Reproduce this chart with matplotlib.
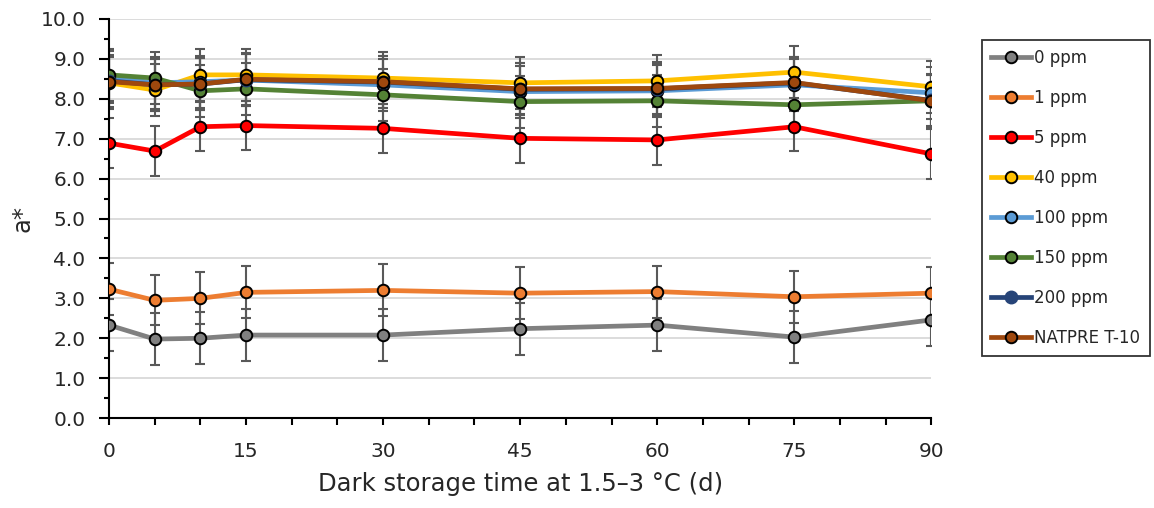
import matplotlib
matplotlib.use("Agg")
import matplotlib.pyplot as plt
from matplotlib.ticker import MultipleLocator, FormatStrFormatter

plt.rcParams['font.family'] = ['DejaVu Sans']

days = [0, 5, 10, 15, 30, 45, 60, 75, 90]

labels = ['0 ppm', '1 ppm', '5 ppm', '40 ppm', '100 ppm', '150 ppm', '200 ppm', 'NATPRE T-10']
colors = ['#808080', '#ED7D31', '#FF0000', '#FFC000', '#5B9BD5', '#548235', '#264478', '#9E480E']

a_0 = [2.33, 1.98, 2.00, 2.08, 2.08, 2.24, 2.33, 2.03, 2.46]
a_1 = [3.23, 2.95, 3.00, 3.15, 3.20, 3.13, 3.17, 3.04, 3.13]
a_5 = [6.89, 6.69, 7.30, 7.33, 7.26, 7.01, 6.97, 7.30, 6.62]
a_40 = [8.40, 8.22, 8.60, 8.60, 8.52, 8.40, 8.45, 8.67, 8.30]
a_100 = [8.55, 8.40, 8.43, 8.47, 8.35, 8.18, 8.20, 8.35, 8.15]
a_150 = [8.60, 8.52, 8.20, 8.25, 8.10, 7.93, 7.95, 7.85, 7.95]
a_200 = [8.45, 8.35, 8.37, 8.48, 8.42, 8.24, 8.25, 8.40, 7.96]
a_nat = [8.43, 8.35, 8.37, 8.49, 8.43, 8.25, 8.26, 8.41, 7.95]

err_0 = [0.65, 0.65, 0.65, 0.65, 0.65, 0.65, 0.65, 0.65, 0.65]
err_1 = [0.65, 0.63, 0.65, 0.65, 0.65, 0.65, 0.65, 0.65, 0.65]
err_5 = [0.62, 0.62, 0.62, 0.62, 0.62, 0.62, 0.62, 0.62, 0.62]
err_40 = [0.65, 0.65, 0.65, 0.65, 0.65, 0.65, 0.65, 0.65, 0.65]
err_100 = [0.65, 0.65, 0.65, 0.65, 0.65, 0.65, 0.65, 0.65, 0.65]
err_150 = [0.65, 0.65, 0.65, 0.65, 0.65, 0.65, 0.65, 0.65, 0.65]
err_200 = [0.65, 0.65, 0.65, 0.65, 0.65, 0.65, 0.65, 0.65, 0.65]
err_nat = [0.65, 0.65, 0.65, 0.65, 0.65, 0.65, 0.65, 0.65, 0.65]

series = [a_0, a_1, a_5, a_40, a_100, a_150, a_200, a_nat]
errors = [err_0, err_1, err_5, err_40, err_100, err_150, err_200, err_nat]

fig = plt.figure(figsize=(11.54, 5.08), dpi=100)
ax = fig.add_axes([0.0945, 0.177, 0.7125, 0.7856])

# error bars behind the lines
for vals, err in zip(series, errors):
    ax.errorbar(days, vals, yerr=err, fmt='none', ecolor='#595959',
                elinewidth=1.5, capsize=3.3, capthick=1.5, zorder=2)

for i, (vals, lab, col) in enumerate(zip(series, labels, colors)):
    if lab == '200 ppm':
        ax.plot(days, vals, color=col, lw=3.4, marker='o', markersize=9,
                markerfacecolor=col, markeredgecolor=col, label=lab, zorder=3 + i)
    else:
        ax.plot(days, vals, color=col, lw=3.4, marker='o', markersize=8.3,
                markerfacecolor=col, markeredgecolor='black', markeredgewidth=1.4,
                label=lab, zorder=3 + i)

ax.set_xlim(0, 90)
ax.set_ylim(0, 10)
ax.xaxis.set_major_locator(MultipleLocator(15))
ax.xaxis.set_minor_locator(MultipleLocator(5))
ax.yaxis.set_major_locator(MultipleLocator(1))
ax.yaxis.set_minor_locator(MultipleLocator(0.5))
ax.yaxis.set_major_formatter(FormatStrFormatter('%.1f'))

ax.grid(axis='y', which='major', color='#D9D9D9', lw=1.3, zorder=0)
ax.set_axisbelow(True)
for s in ['top', 'right']:
    ax.spines[s].set_visible(False)
for s in ['left', 'bottom']:
    ax.spines[s].set_linewidth(1.5)
    ax.spines[s].set_color('black')

ax.tick_params(axis='x', which='both', direction='out', length=5, width=1.5,
               labelsize=14.5, pad=12, labelcolor='#262626')
ax.tick_params(axis='y', which='major', direction='out', length=7, width=1.5,
               labelsize=14.5, pad=10, labelcolor='#262626')
ax.tick_params(axis='y', which='minor', direction='out', length=3.5, width=1.5)

ax.set_xlabel('Dark storage time at 1.5\u20133 \u00b0C (d)', fontsize=17.5,
              color='#262626', labelpad=8)
ax.set_ylabel('a*', fontsize=17.5, color='#262626', labelpad=4)

leg = fig.legend(loc='upper left', bbox_to_anchor=(982 / 1154, 1 - 40 / 508),
                 frameon=True, fancybox=False, edgecolor='black', fontsize=12,
                 handlelength=2.4, handletextpad=0.2, labelspacing=1.32,
                 borderpad=0.55, borderaxespad=0)
leg.get_frame().set_linewidth(1.3)
for t in leg.get_texts():
    t.set_color('#262626')

fig.savefig('out.png', dpi=100)
